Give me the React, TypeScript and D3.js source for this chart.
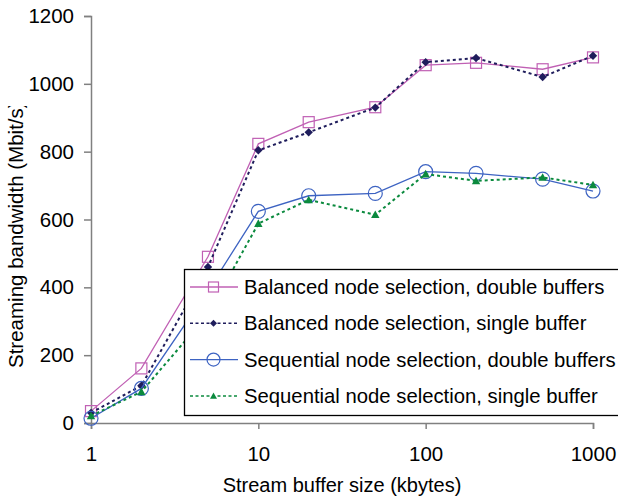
import { useEffect, useRef } from 'react'
import * as d3 from 'd3'

const W = 618
const H = 496
const MARGIN = { top: 16, right: 25, bottom: 73, left: 91 }
const FONT = '"Liberation Sans", Arial, sans-serif'

const bufferSizes = [1, 2, 5, 10, 20, 50, 100, 200, 500, 1000]
const balancedDouble = [35, 161, 490, 823, 887, 931, 1055, 1062, 1043, 1078]
const balancedSingle = [30, 110, 460, 804, 857, 930, 1064, 1076, 1020, 1083]
const sequentialDouble = [14, 102, 390, 624, 670, 677, 741, 736, 719, 684]
const sequentialSingle = [21, 92, 320, 588, 658, 614, 734, 714, 724, 702]

const yTicks = [0, 200, 400, 600, 800, 1000, 1200]
const xTicks = [1, 10, 100, 1000]

const SERIES = [
  { name: 'Balanced node selection, double buffers', values: balancedDouble, color: '#c060b4', dash: null, marker: 'square' },
  { name: 'Balanced node selection, single buffer', values: balancedSingle, color: '#1f1d5c', dash: '3,3', marker: 'diamond' },
  { name: 'Sequential node selection, double buffers', values: sequentialDouble, color: '#3d63c2', dash: null, marker: 'circle' },
  { name: 'Sequential node selection, single buffer', values: sequentialSingle, color: '#0b8a3e', dash: '3,3', marker: 'triangle' },
]

function drawMarker(g, kind, x, y, color, big) {
  if (kind === 'square') {
    const s = big ? 11 : 10
    g.append('rect').attr('x', x - s / 2).attr('y', y - s / 2).attr('width', s).attr('height', s)
      .attr('fill', 'none').attr('stroke', color).attr('stroke-width', 1.2)
  } else if (kind === 'circle') {
    g.append('circle').attr('cx', x).attr('cy', y).attr('r', big ? 7 : 6.5)
      .attr('fill', 'none').attr('stroke', color).attr('stroke-width', 1.2)
  } else if (kind === 'diamond') {
    const s = big ? 4.2 : 3.5
    g.append('path').attr('d', `M${x},${y - s}L${x + s},${y}L${x},${y + s}L${x - s},${y}Z`).attr('fill', color)
  } else {
    const s = big ? 4.2 : 3.5
    g.append('path').attr('d', `M${x},${y - s}L${x + s},${y + s * 0.8}L${x - s},${y + s * 0.8}Z`).attr('fill', color)
  }
}

export default function App() {
  const svgRef = useRef(null)

  useEffect(() => {
    document.body.style.margin = '0'
    const el = svgRef.current
    d3.select(el).selectAll('*').remove()
    const svg = d3.select(el)

    const x = d3.scaleLog().domain([1, 1000]).range([MARGIN.left, W - MARGIN.right])
    const y = d3.scaleLinear().domain([0, 1200]).range([H - MARGIN.bottom, MARGIN.top])
    const axisColor = '#808080'

    // Y axis
    svg.append('g')
      .attr('transform', `translate(${MARGIN.left},0)`)
      .call(d3.axisLeft(y).tickValues(yTicks).tickSize(7).tickPadding(10).tickFormat(d3.format('d')))
      .call(g => {
        g.select('.domain').attr('stroke', axisColor).attr('stroke-width', 1.5)
        g.selectAll('line').attr('stroke', axisColor).attr('stroke-width', 1.5)
        g.selectAll('text').attr('fill', '#000').attr('font-size', '20.5px').attr('font-family', FONT)
      })

    // X axis
    svg.append('g')
      .attr('transform', `translate(0,${y(0)})`)
      .call(d3.axisBottom(x).tickValues(xTicks).tickSize(6).tickPadding(17).tickFormat(d3.format('d')))
      .call(g => {
        g.select('.domain').attr('stroke', axisColor).attr('stroke-width', 1.5)
        g.selectAll('line').attr('stroke', axisColor).attr('stroke-width', 1.5)
        g.selectAll('text').attr('fill', '#000').attr('font-size', '20.5px').attr('font-family', FONT)
      })

    // Series
    const line = d3.line().x((d, i) => x(bufferSizes[i])).y(d => y(d))
    SERIES.forEach(s => {
      svg.append('path')
        .datum(s.values)
        .attr('fill', 'none')
        .attr('stroke', s.color)
        .attr('stroke-width', s.dash ? 2 : 1.3)
        .attr('stroke-dasharray', s.dash)
        .attr('d', line)
      const mg = svg.append('g')
      s.values.forEach((v, i) => drawMarker(mg, s.marker, x(bufferSizes[i]), y(v), s.color, true))
    })

    // Legend
    const lg = svg.append('g')
    lg.append('rect').attr('x', 184.5).attr('y', 269.5).attr('width', 460).attr('height', 146)
      .attr('fill', '#fff').attr('stroke', '#000').attr('stroke-width', 1.3)
    SERIES.forEach((s, i) => {
      const ly = 287 + i * 36.3
      lg.append('line').attr('x1', 190).attr('x2', 238).attr('y1', ly).attr('y2', ly)
        .attr('stroke', s.color).attr('stroke-width', s.dash ? 1.5 : 1.3)
        .attr('stroke-dasharray', s.dash ? '3,2.5' : null)
      drawMarker(lg, s.marker, 213.5, ly, s.color, false)
      lg.append('text').attr('x', 244).attr('y', ly + 7)
        .attr('font-size', '20.3px').attr('font-family', FONT).attr('fill', '#000')
        .text(s.name)
    })

    // Axis titles
    svg.append('text')
      .attr('x', (MARGIN.left + W - MARGIN.right) / 2)
      .attr('y', 492)
      .attr('text-anchor', 'middle')
      .attr('font-size', '20px').attr('font-family', FONT).attr('fill', '#000')
      .text('Stream buffer size (kbytes)')

    // y title is cut at the top in the source
    svg.append('defs').append('clipPath').attr('id', 'yclip')
      .append('rect').attr('x', 0).attr('y', 106).attr('width', 60).attr('height', 300)
    svg.append('g')
      .attr('clip-path', 'url(#yclip)')
      .append('text')
      .attr('transform', 'rotate(-90)')
      .attr('x', -368)
      .attr('y', 23)
      .attr('text-anchor', 'start')
      .attr('font-size', '20.5px').attr('font-family', FONT).attr('fill', '#000')
      .text('Streaming bandwidth (Mbit/s)')
  }, [])

  return <svg ref={svgRef} width={W} height={H} style={{ display: 'block', background: '#fff' }} />
}
